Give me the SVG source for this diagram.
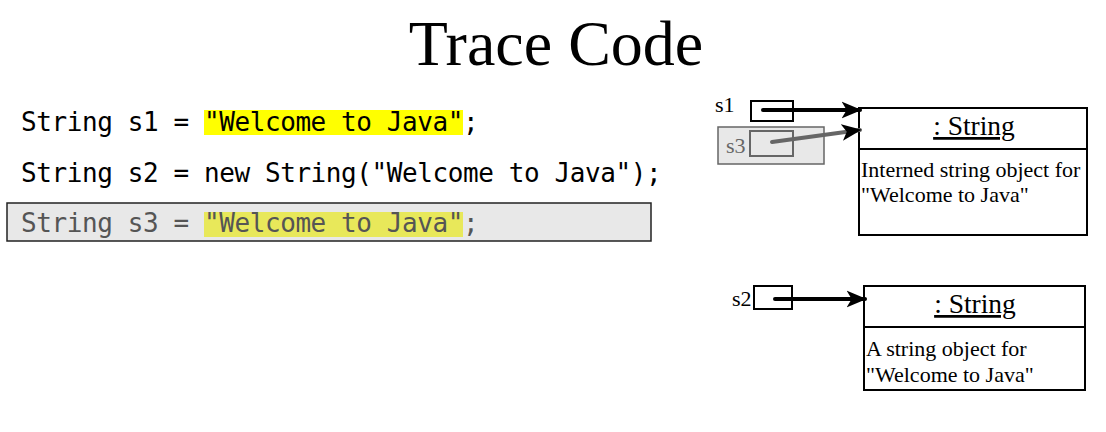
<svg xmlns="http://www.w3.org/2000/svg" width="1106" height="432" viewBox="0 0 1106 432">
<style>
.code{font-family:"DejaVu Sans Mono",monospace;font-size:26px;letter-spacing:-0.41px;fill:#000}
.serif{font-family:"Liberation Serif","Times New Roman",serif;fill:#000}
.box{fill:#fff;stroke:#000;stroke-width:2}
.ref{fill:#fff;stroke:#000;stroke-width:2}
.arr{stroke:#000;stroke-width:4;fill:none;stroke-linecap:round}
</style>
<defs>
<marker id="ah" viewBox="0 0 12 10" refX="11" refY="5" markerWidth="5" markerHeight="4.5" markerUnits="strokeWidth" orient="auto">
<path d="M0,0 L12,5 L0,10 L3,5 z" fill="#000"/>
</marker>
</defs>
<rect width="1106" height="432" fill="#fff"/>
<text class="serif" x="556" y="65" font-size="64" text-anchor="middle">Trace Code</text>

<g id="code1">
<rect x="204" y="110" width="259" height="25" fill="#ffff00"/>
<text class="code" x="21" y="131" xml:space="preserve">String s1 = "Welcome to Java";</text>
</g>
<g id="code2">
<text class="code" x="21" y="182" xml:space="preserve">String s2 = new String("Welcome to Java");</text>
</g>
<g id="code3">
<rect x="7" y="203" width="644" height="38" fill="#e8e8e8" stroke="#222" stroke-width="1.5"/>
<rect x="204" y="212" width="259" height="25" fill="#e8e85a"/>
<text class="code" x="21" y="232" style="fill:#555" xml:space="preserve">String s3 = "Welcome to Java";</text>
</g>

<g id="s1">
<text class="serif" x="715" y="112" font-size="22">s1</text>
<rect class="ref" x="751" y="101" width="42" height="20"/>
</g>
<g id="s3">
<rect x="718" y="127" width="106" height="37" fill="#e8e8e8" stroke="#666" stroke-width="1.5"/>
<text class="serif" x="726" y="153" font-size="22" style="fill:#666">s3</text>
<rect x="750" y="131" width="43" height="25" fill="#e8e8e8" stroke="#666" stroke-width="2"/>
</g>
<g id="s2">
<text class="serif" x="732" y="306" font-size="22">s2</text>
<rect class="ref" x="754" y="286" width="38" height="23"/>
</g>

<g id="obj1">
<rect class="box" x="859" y="108" width="228" height="127"/>
<line x1="859" y1="149" x2="1087" y2="149" stroke="#000" stroke-width="2"/>
<text class="serif" x="974" y="135" font-size="27.5" text-anchor="middle" text-decoration="underline">: String</text>
<text class="serif" x="861" y="177" font-size="22">Interned string object for</text>
<text class="serif" x="861" y="202" font-size="22">"Welcome to Java"</text>
</g>
<g id="obj2">
<rect class="box" x="864" y="286" width="221" height="104"/>
<line x1="864" y1="327" x2="1085" y2="327" stroke="#000" stroke-width="2"/>
<text class="serif" x="975" y="313" font-size="27.5" text-anchor="middle" text-decoration="underline">: String</text>
<text class="serif" x="866" y="356" font-size="22">A string object for</text>
<text class="serif" x="866" y="382" font-size="22">"Welcome to Java"</text>
</g>

<g id="connectors">
<line class="arr" x1="763" y1="110" x2="860" y2="110" marker-end="url(#ah)"/>
<line class="arr" x1="772" y1="142" x2="860" y2="130" style="stroke:#666" marker-end="url(#ah)"/>
<line class="arr" x1="775" y1="299" x2="865" y2="299" marker-end="url(#ah)"/>
</g>
</svg>
